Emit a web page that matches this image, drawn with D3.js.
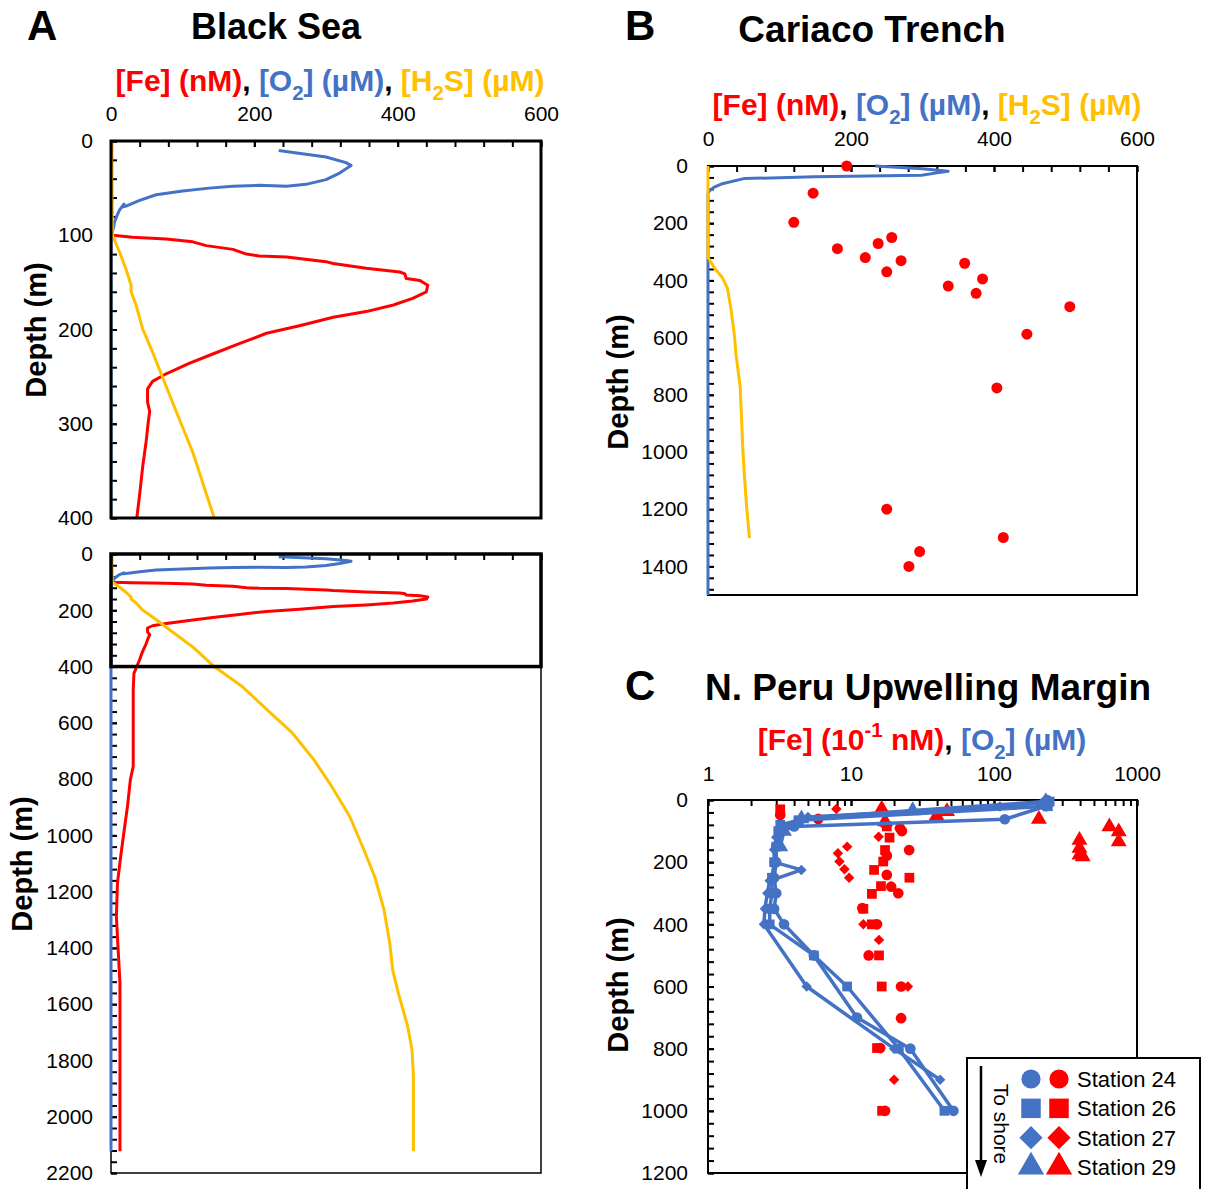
<!DOCTYPE html>
<html>
<head>
<meta charset="utf-8">
<script src="https://cdn.jsdelivr.net/npm/d3@7"></script>
<style>
body{margin:0;background:#fff}
text{font-family:"Liberation Sans",Arial,sans-serif}
</style>
</head>
<body>
<svg id="fig" width="1206" height="1189"></svg>
<script>
// ---- data: [value, depth (m)] ----
// Black Sea
const bsO2 = [[234,10],[300,17],[328,23],[335,26],[319,34],[300,41],[272,46],[245,48],[207,47],[170,48],[137,50],[100,53],[63,57],[40,63],[21,69],[16,70],[18,67],[12,73],[9,78],[5,86],[2,97],[0,105],[0,400],[0,800],[0,1200],[0,1600],[0,2123]];
const bsFe = [[1,0],[1,50],[1,95],[2,100],[30,102],[77,104],[114,107],[133,111],[170,115],[189,120],[207,122],[245,123],[300,128],[310,130],[356,135],[403,139],[410,141],[412,146],[431,148],[442,153],[440,160],[421,167],[394,174],[356,181],[310,187],[263,196],[217,204],[179,215],[142,226],[109,236],[77,247],[58,255],[51,263],[51,277],[54,287],[52,298],[49,319],[44,347],[40,375],[36,400],[32,424],[31,483],[31,601],[31,755],[27,803],[23,897],[18.5,980],[13.5,1075],[9,1170],[7.5,1289],[10,1407],[12.5,1525],[12.5,1762],[12.5,2000],[12.5,2123]];
const bsH2S = [[0,0],[1,50],[2,100],[12,118],[21,136],[28,153],[28,160],[35,174],[44,199],[58,224],[70,247],[91,287],[114,330],[144,400],[183,471],[218,554],[253,636],[283,731],[308,826],[333,932],[353,1052],[368,1147],[381,1265],[389,1383],[393,1478],[401,1561],[414,1679],[420,1762],[422,1857],[422,2123]];

// Cariaco Trench
const caFe = [[194,0],[147,95],[120,197],[181,289],[220,320],[238,271],[257,250],[270,331],[250,370],[359,340],[336,420],[384,395],[375,445],[506,492],[446,588],[404,776],[250,1200],[413,1299],[296,1348],[281,1400]];
const caO2 = [[234,0],[300,10],[336,18],[320,24],[299,32],[149,38],[50,44],[20,62],[8,75],[2.5,86],[0,95],[0,1500]];
const caH2S = [[0,0],[0,319],[5,340],[10,360],[20,390],[27,426],[32,498],[37,593],[39,656],[45,772],[49,1005],[51,1086],[54,1191],[58,1301]];

// N. Peru upwelling margin
const stations = ["Station 24","Station 26","Station 27","Station 29"];
const peO2 = [
  [[235,0],[230,20],[119,62],[4,85],[3.3,100],[3.0,150],[3.0,200],[2.9,250],[3.0,300],[2.9,350],[3.4,400],[5.5,500],[11,700],[26,800],[52,1000]],
  [[245,5],[238,20],[4.3,65],[3.2,80],[3.1,100],[3.0,150],[2.9,200],[2.8,250],[2.8,300],[2.7,350],[2.7,400],[5.5,500],[9.4,600],[21.6,800],[45,1000]],
  [[215,10],[110,21],[5,55],[3.2,90],[3.0,120],[2.9,160],[2.9,200],[4.5,225],[2.7,260],[2.6,300],[2.5,350],[2.46,400],[4.9,600],[20,800],[42,900]],
  [[230,5],[27,34],[4.5,60],[3.4,100],[3.2,150]]
];
const peFe = [
  [[3.2,48],[5.9,61],[22,91],[22.7,100],[25.5,161],[17.8,179],[17.8,241],[19.1,279],[21.4,300],[12,348],[15.2,400],[13.3,500],[22.4,600],[22.4,702],[16,798],[17.3,1000]],
  [[3.2,30],[4.3,70],[17.8,85],[18.6,121],[17.3,161],[16.8,198],[14.5,225],[25.6,250],[16.2,277],[14,302],[12.2,350],[14,400],[15.7,500],[16.4,600],[15.2,798],[16.5,1000]],
  [[7.9,29],[17,80],[15.6,118],[9.4,150],[8.1,171],[8.3,198],[9,223],[9.7,250],[12.2,400],[15.7,450],[25,600],[20,900]],
  [[16.4,29],[17.3,70],[39.7,51],[46.9,37],[206,62],[641,86],[745,102],[745,134],[396,129],[396,155],[396,177],[417,182]]
];

// tick values
const linTicks = [0,200,400,600];
const linMinor = d3.range(0,601,40);
const logTicks = [1,10,100,1000];
const logMinor = [1,10,100].flatMap(b => d3.range(1,10).map(k => b*k)).concat([1000]);

const RED = "#FF0000", BLUE = "#4472C4", YEL = "#FFC000";
const svg = d3.select('#fig');

// ---- helpers ----
function richText(g, x, y, parts, size){
  let t = g.append('text').attr('x', x).attr('y', y)
    .attr('text-anchor','middle').attr('font-size', size).attr('font-weight','bold');
  let off = 0;
  parts.forEach(p => {
    let want = p.sub ? 0.3 : (p.sup ? -0.45 : 0);
    t.append('tspan').attr('fill', p.c)
      .attr('dy', ((want - off) * size) + 'px')
      .attr('font-size', (p.sub || p.sup) ? size * 0.68 : null)
      .text(p.t);
    off = want;
  });
  return t;
}

function axes(g, x, y, o){
  let y0 = y.range()[0];
  let x0 = x.range()[0];
  // minor top ticks
  g.append('g').attr('transform', `translate(0,${y0})`)
    .call(d3.axisTop(x).tickValues(o.xMinor).tickSizeInner(-6).tickSizeOuter(0).tickFormat(''))
    .call(a => a.select('.domain').remove());
  let xa = g.append('g').attr('transform', `translate(0,${y0})`)
    .call(d3.axisTop(x).tickValues(o.xMajor).tickSizeInner(-6).tickSizeOuter(0)
      .tickPadding(o.xPad).tickFormat(o.showX ? d3.format('d') : ''));
  xa.select('.domain').remove();
  // minor left ticks
  g.append('g').attr('transform', `translate(${x0},0)`)
    .call(d3.axisLeft(y).tickValues(o.yMinor).tickSizeInner(-6).tickSizeOuter(0).tickFormat(''))
    .call(a => a.select('.domain').remove());
  let ya = g.append('g').attr('transform', `translate(${x0},0)`)
    .call(d3.axisLeft(y).tickValues(o.yMajor).tickSizeInner(-6).tickSizeOuter(0)
      .tickPadding(o.yPad).tickFormat(d3.format('d')));
  ya.select('.domain').remove();
  g.selectAll('.tick line').attr('stroke','#000').attr('stroke-width',2);
  g.selectAll('.tick text').attr('font-size',21).attr('fill','#000')
    .attr('font-family','"Liberation Sans",Arial,sans-serif');
}

function frame(g, x, y, w){
  let [xa, xb] = x.range(), [ya, yb] = y.range();
  g.append('rect').attr('x', xa).attr('y', ya).attr('width', xb - xa).attr('height', yb - ya)
    .attr('fill','none').attr('stroke','#000').attr('stroke-width', w);
}

function profile(g, x, y, data, color, clip){
  g.append('path').datum(data)
    .attr('d', d3.line().x(d => x(d[0])).y(d => y(d[1])))
    .attr('fill','none').attr('stroke', color).attr('stroke-width',3)
    .attr('stroke-linejoin','round').attr('clip-path', clip || null);
}

function ylabel(g, cx, cy){
  g.append('text').attr('transform', `translate(${cx},${cy}) rotate(-90)`)
    .attr('text-anchor','middle').attr('dy','0.35em')
    .attr('font-size',29).attr('font-weight','bold').text('Depth (m)');
}

const fullTitle = [
  {t:'[Fe] (nM)', c:RED},{t:', ', c:'#000'},
  {t:'[O', c:BLUE},{t:'2', c:BLUE, sub:true},{t:'] (µM)', c:BLUE},{t:', ', c:'#000'},
  {t:'[H', c:YEL},{t:'2', c:YEL, sub:true},{t:'S] (µM)', c:YEL}
];

// ---- panel letters and titles ----
svg.append('text').attr('x',27).attr('y',40).attr('font-size',42).attr('font-weight','bold').text('A');
svg.append('text').attr('x',276).attr('y',39).attr('text-anchor','middle').attr('font-size',36).attr('font-weight','bold').text('Black Sea');
svg.append('text').attr('x',625).attr('y',40).attr('font-size',42).attr('font-weight','bold').text('B');
svg.append('text').attr('x',872).attr('y',42).attr('text-anchor','middle').attr('font-size',37).attr('font-weight','bold').text('Cariaco Trench');
svg.append('text').attr('x',625).attr('y',700).attr('font-size',42).attr('font-weight','bold').text('C');
svg.append('text').attr('x',928).attr('y',700).attr('text-anchor','middle').attr('font-size',37).attr('font-weight','bold').text('N. Peru Upwelling Margin');

// ---- A: Black Sea (0-400 m zoom) ----
const gA = svg.append('g');
const xA = d3.scaleLinear().domain([0,600]).range([111,541]);
const yA = d3.scaleLinear().domain([0,400]).range([141,518]);
gA.append('clipPath').attr('id','clipA').append('rect')
  .attr('x',111).attr('y',141).attr('width',430).attr('height',377);
richText(gA, 330, 91, fullTitle, 30);
axes(gA, xA, yA, {xMajor:linTicks, xMinor:linMinor, showX:true, xPad:20,
  yMajor:d3.range(0,401,100), yMinor:d3.range(0,401,20), yPad:18});
profile(gA, xA, yA, bsO2, BLUE, 'url(#clipA)');
profile(gA, xA, yA, bsFe, RED, 'url(#clipA)');
profile(gA, xA, yA, bsH2S, YEL, 'url(#clipA)');
frame(gA, xA, yA, 3);
ylabel(gA, 36, 330);

// ---- A: Black Sea full depth ----
const gA2 = svg.append('g');
const yA2 = d3.scaleLinear().domain([0,2200]).range([554,1173]);
axes(gA2, xA, yA2, {xMajor:linTicks, xMinor:linMinor, showX:false, xPad:20,
  yMajor:d3.range(0,2201,200), yMinor:d3.range(0,2201,40), yPad:18});
frame(gA2, xA, yA2, 1.5);
profile(gA2, xA, yA2, bsO2, BLUE);
profile(gA2, xA, yA2, bsFe, RED);
profile(gA2, xA, yA2, bsH2S, YEL);
// highlight of the 0-400 m window
gA2.append('rect').attr('x', xA(0)).attr('y', yA2(0))
  .attr('width', xA(600) - xA(0)).attr('height', yA2(400) - yA2(0))
  .attr('fill','none').attr('stroke','#000').attr('stroke-width',3.5);
ylabel(gA2, 22, 864);

// ---- B: Cariaco Trench ----
const gB = svg.append('g');
const xB = d3.scaleLinear().domain([0,600]).range([708,1137]);
const yB = d3.scaleLinear().domain([0,1500]).range([166,595]);
richText(gB, 927, 115, fullTitle, 30);
axes(gB, xB, yB, {xMajor:linTicks, xMinor:linMinor, showX:true, xPad:20,
  yMajor:d3.range(0,1401,200), yMinor:d3.range(0,1501,40), yPad:20});
frame(gB, xB, yB, 2);
profile(gB, xB, yB, caO2, BLUE);
profile(gB, xB, yB, caH2S, YEL);
gB.append('g').selectAll('circle').data(caFe).join('circle')
  .attr('cx', d => xB(d[0])).attr('cy', d => yB(d[1])).attr('r', 5.5).attr('fill', RED);
ylabel(gB, 618, 382);

// ---- C: N. Peru ----
const gC = svg.append('g');
const xC = d3.scaleLog().domain([1,1000]).range([708,1137]);
const yC = d3.scaleLinear().domain([0,1200]).range([800,1173]);
richText(gC, 922, 750, [
  {t:'[Fe] (10', c:RED},{t:'-1', c:RED, sup:true},{t:' nM)', c:RED},{t:', ', c:'#000'},
  {t:'[O', c:BLUE},{t:'2', c:BLUE, sub:true},{t:'] (µM)', c:BLUE}
], 30);
axes(gC, xC, yC, {xMajor:logTicks, xMinor:logMinor, showX:true, xPad:19,
  yMajor:d3.range(0,1201,200), yMinor:d3.range(0,1201,40), yPad:20});
frame(gC, xC, yC, 2);
ylabel(gC, 618, 985);

// diamond = square turned 45 degrees
const shapes = [d3.symbolCircle, d3.symbolSquare, d3.symbolSquare, d3.symbolTriangle];
const turn = [0, 0, 45, 0];
const plotSize = [90, 95, 55, 110];
const legSize = [290, 380, 270, 300];

peFe.forEach((pts, i) => {
  gC.append('g').selectAll('path').data(pts).join('path')
    .attr('transform', d => `translate(${xC(d[0])},${yC(d[1])}) rotate(${turn[i]})`)
    .attr('d', d3.symbol().type(shapes[i]).size(plotSize[i]))
    .attr('fill', RED);
});
peO2.forEach((pts, i) => {
  gC.append('path').datum(pts)
    .attr('d', d3.line().x(d => xC(d[0])).y(d => yC(d[1])))
    .attr('fill','none').attr('stroke', BLUE).attr('stroke-width',3.5).attr('stroke-linejoin','round');
  gC.append('g').selectAll('path').data(pts).join('path')
    .attr('transform', d => `translate(${xC(d[0])},${yC(d[1])}) rotate(${turn[i]})`)
    .attr('d', d3.symbol().type(shapes[i]).size(plotSize[i]))
    .attr('fill', BLUE);
});

// legend
const leg = svg.append('g');
leg.append('rect').attr('x',967).attr('y',1058).attr('width',233).attr('height',140)
  .attr('fill','#fff').attr('stroke','#000').attr('stroke-width',2);
leg.append('line').attr('x1',981).attr('x2',981).attr('y1',1066).attr('y2',1162)
  .attr('stroke','#000').attr('stroke-width',2.5);
leg.append('path').attr('d','M975,1160 L987,1160 L981,1177 Z').attr('fill','#000');
leg.append('text').attr('transform','translate(1001,1124) rotate(90)')
  .attr('text-anchor','middle').attr('dy','0.35em').attr('font-size',21).text('To shore');
const rowY = d3.scalePoint().domain(stations).range([1079,1167]);
stations.forEach((s, i) => {
  let yy = rowY(s);
  leg.append('path').attr('transform', `translate(1031,${yy}) rotate(${turn[i]})`)
    .attr('d', d3.symbol().type(shapes[i]).size(legSize[i])).attr('fill', BLUE);
  leg.append('path').attr('transform', `translate(1059,${yy}) rotate(${turn[i]})`)
    .attr('d', d3.symbol().type(shapes[i]).size(legSize[i])).attr('fill', RED);
  leg.append('text').attr('x',1077).attr('y',yy).attr('dy','0.36em')
    .attr('font-size',22).text(s);
});
</script>
</body>
</html>
